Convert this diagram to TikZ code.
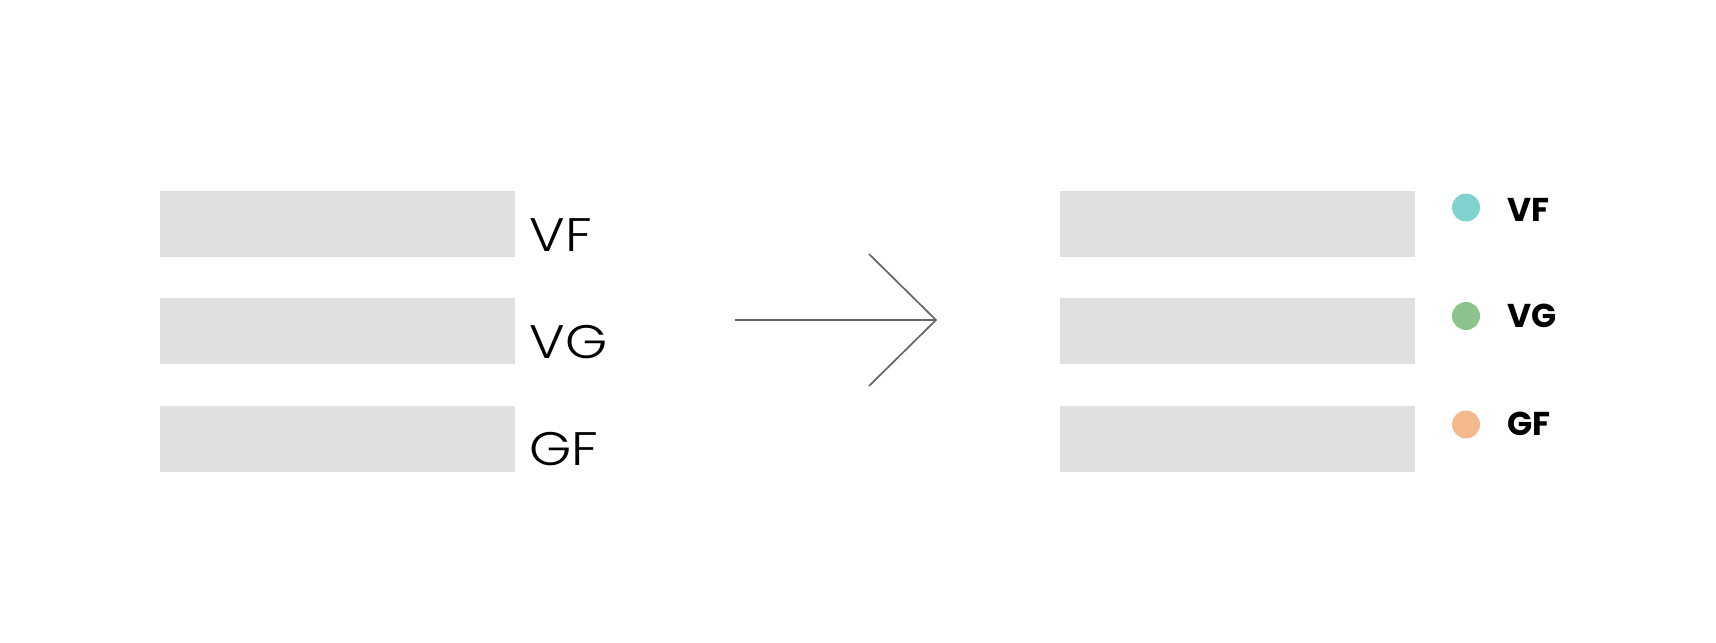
\documentclass[tikz,border=0pt]{standalone}
\usepackage{fontspec}
\setmainfont{Poppins}
\newfontfamily\poplight{Poppins Light}[FakeStretch=1.15]
\definecolor{barfill}{HTML}{E0E0E0}
\definecolor{dotteal}{HTML}{80D2CE}
\definecolor{dotgreen}{HTML}{8CC28C}
\definecolor{dotorange}{HTML}{F5B98E}
\definecolor{arrowgray}{HTML}{666666}
\begin{document}
\begin{tikzpicture}[x=0.5pt,y=-0.5pt,
  bar/.style={fill=barfill,draw=none,inner sep=0pt,anchor=north west,minimum height=33pt},
  leftbar/.style={bar,minimum width=177.5pt},
  rightbar/.style={bar,minimum width=177.5pt},
  lefttext/.style={anchor=base west,inner sep=0pt,font=\poplight\fontsize{23.5}{28}\selectfont,text=black},
  righttext/.style={anchor=base west,inner sep=0pt,font=\bfseries\fontsize{16.5}{19}\selectfont,text=black},
  dot/.style={circle,draw=none,inner sep=0pt,minimum size=14pt}]
\useasboundingbox (0,0) rectangle (1716,642);
% left bars
\node[leftbar] (l1) at (160,191) {};
\node[leftbar] (l2) at (160,298) {};
\node[leftbar] (l3) at (160,406) {};
\node[lefttext] (lt1) at (529,251) {VF};
\node[lefttext] (lt2) at (529,358) {VG};
\node[lefttext] (lt3) at (529,465) {GF};
% arrow
\coordinate (as) at (735,320);
\coordinate (at) at (936,320);
\coordinate (au) at (869,254);
\coordinate (ad) at (869,386);
\draw[arrowgray,line width=0.85pt] (as) -- (at);
\draw[arrowgray,line width=0.85pt] (au) -- (at) -- (ad);
% right bars
\node[rightbar] (r1) at (1060,191) {};
\node[rightbar] (r2) at (1060,298) {};
\node[rightbar] (r3) at (1060,406) {};
\node[dot,fill=dotteal] (d1) at (1466,207.5) {};
\node[dot,fill=dotgreen] (d2) at (1466,316) {};
\node[dot,fill=dotorange] (d3) at (1466,424.5) {};
\node[righttext] (rt1) at (1507,221.5) {VF};
\node[righttext] (rt2) at (1507,327.5) {VG};
\node[righttext] (rt3) at (1507,435.5) {GF};
\end{tikzpicture}
\end{document}
